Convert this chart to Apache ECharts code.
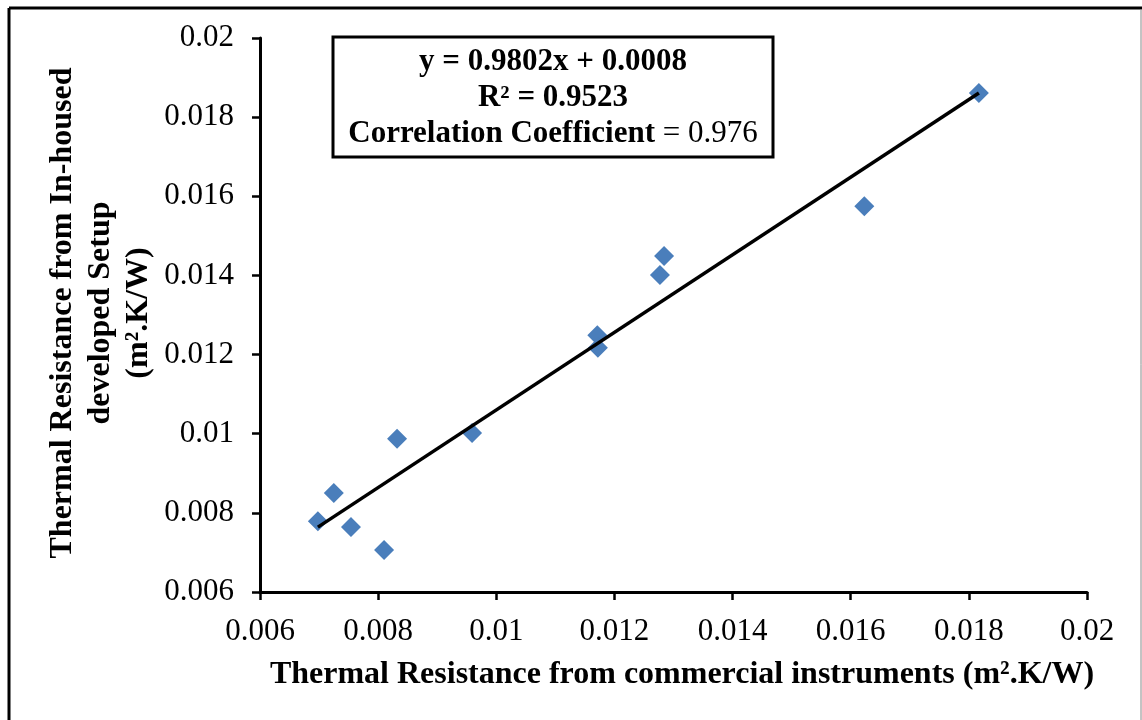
<!DOCTYPE html>
<html>
<head>
<meta charset="utf-8">
<script src="https://cdn.jsdelivr.net/npm/echarts@6/dist/echarts.min.js"></script>
<style>
  html, body { margin: 0; padding: 0; background: #fff; }
  #chart { width: 1142px; height: 720px; }
</style>
</head>
<body>
<div id="chart"></div>
<script>
  // measured points (commercial instruments vs in-housed setup)
  var xValues = [0.00698, 0.00725, 0.00754, 0.0081, 0.00832, 0.00959, 0.01171, 0.01172, 0.01277, 0.01284, 0.01623, 0.01817]
  var yValues = [0.00779, 0.0085, 0.00764, 0.00706, 0.00987, 0.01002, 0.01249, 0.01217, 0.01401, 0.01449, 0.01575, 0.01861]
  // linear trend line end points
  var trendX = [0.00698, 0.01817]
  var trendY = [0.00764, 0.01861]
  var axisTicks = ['0.006', '0.008', '0.01', '0.012', '0.014', '0.016', '0.018', '0.02']

  var points = xValues.map(function (x, i) { return [x, yValues[i]] })
  var trend = trendX.map(function (x, i) { return [x, trendY[i]] })

  var serif = '"Liberation Serif", "Times New Roman", serif'
  var axisCommon = {
    type: 'value',
    min: 0.006,
    max: 0.02,
    interval: 0.002,
    splitLine: { show: false },
    axisLine: { show: true, lineStyle: { color: '#000', width: 3 } },
    axisTick: { show: true, inside: false, length: 8, lineStyle: { color: '#000', width: 2.5 } },
    axisLabel: {
      color: '#000',
      fontFamily: serif,
      fontSize: 31,
      formatter: function (v) {
        var s = String(+v.toFixed(3))
        return axisTicks.indexOf(s) >= 0 ? s : ''
      }
    }
  }

  var chart = echarts.init(document.getElementById('chart'))
  chart.setOption({
    backgroundColor: '#fff',
    animation: false,
    grid: { left: 260, right: 55, top: 38, bottom: 128 },
    xAxis: Object.assign({}, axisCommon, {
      axisLabel: Object.assign({}, axisCommon.axisLabel, { margin: 24 }),
      name: 'Thermal Resistance from commercial instruments (m².K/W)',
      nameLocation: 'middle',
      nameGap: 67,
      nameTextStyle: { color: '#000', fontFamily: serif, fontSize: 32, fontWeight: 'bold', padding: [0, 0, 0, 17] }
    }),
    yAxis: Object.assign({}, axisCommon, {
      axisLabel: Object.assign({}, axisCommon.axisLabel, { margin: 26 })
    }),
    series: [
      {
        type: 'scatter',
        data: points,
        symbol: 'diamond',
        symbolSize: 20,
        itemStyle: { color: '#4a7ebb', opacity: 1 },
        z: 2
      },
      {
        type: 'line',
        data: trend,
        symbol: 'none',
        lineStyle: { color: '#000', width: 3.5 },
        z: 3
      }
    ],
    graphic: [
      // outer frame
      { type: 'line', shape: { x1: 9, y1: 8, x2: 1142, y2: 8 }, style: { stroke: '#000', lineWidth: 3 } },
      { type: 'line', shape: { x1: 9, y1: 8, x2: 9, y2: 720 }, style: { stroke: '#000', lineWidth: 3 } },
      { type: 'line', shape: { x1: 1141, y1: 9, x2: 1141, y2: 720 }, style: { stroke: '#888', lineWidth: 1 } },
      // y axis title
      {
        type: 'text',
        x: 101,
        y: 313,
        rotation: Math.PI / 2,
        style: {
          text: 'Thermal Resistance from In-housed\ndeveloped Setup\n(m².K/W)',
          fill: '#000',
          font: 'bold 32px ' + serif,
          lineHeight: 38,
          align: 'center',
          verticalAlign: 'middle'
        }
      },
      // equation box
      {
        type: 'rect',
        shape: { x: 333, y: 37, width: 440, height: 120 },
        style: { fill: '#fff', stroke: '#000', lineWidth: 3 },
        z: 10
      },
      {
        type: 'text',
        x: 553,
        y: 98,
        z: 11,
        style: {
          text: '{b|y = 0.9802x + 0.0008}\n{b|R² = 0.9523}\n{b|Correlation Coefficient }{n|= 0.976}',
          align: 'center',
          verticalAlign: 'middle',
          lineHeight: 36,
          rich: {
            b: { font: 'bold 31px ' + serif, fill: '#000', lineHeight: 36 },
            n: { font: '31px ' + serif, fill: '#000', lineHeight: 36 }
          }
        }
      }
    ]
  })
</script>
</body>
</html>
